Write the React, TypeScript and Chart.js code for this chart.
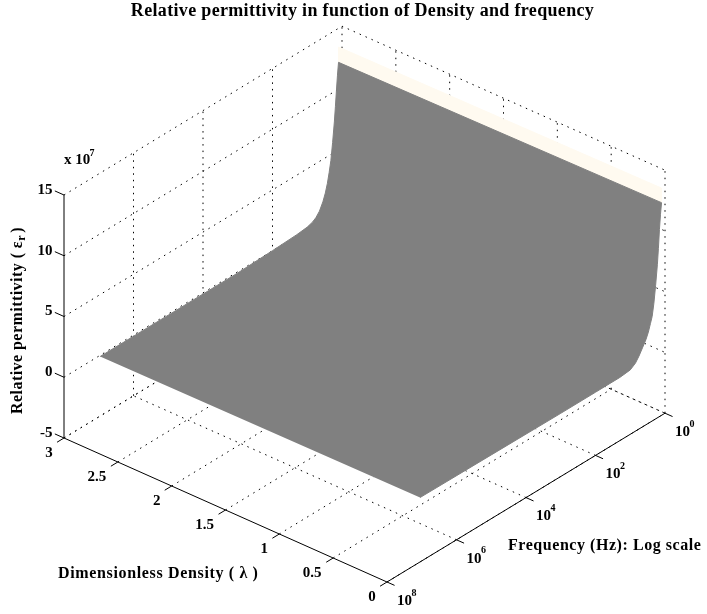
import React, { useEffect, useRef } from "react";
import { Chart, registerables } from "chart.js";

Chart.register(...registerables);

const titleText = "Relative permittivity in function of Density and frequency";
const lambdaTicks = [0, 0.5, 1, 1.5, 2, 2.5, 3];
const lambdaLabels = ["0", "0.5", "1", "1.5", "2", "2.5", "3"];
const freqExponents = [0, 2, 4, 6, 8];
const permTicks = [-5, 0, 5, 10, 15];
// surface profile: log10(frequency) vs permittivity (x 10^7) at the two density edges
const logFAtDensity3 = [6.96, 5, 3, 2, 1.3, 1, 0.85, 0.75, 0.65, 0.55, 0.48, 0.42, 0.37, 0.32, 0.27, 0.22, 0.19, 0.16, 0.13, 0.1];
const logFAtDensity0 = [7.05, 5, 3, 2, 1.3, 1, 0.85, 0.75, 0.65, 0.55, 0.48, 0.42, 0.37, 0.32, 0.27, 0.22, 0.19, 0.16, 0.13, 0.1];
const permAtDensity3 = [-0.1, -0.1, -0.1, 0, 0.1, 0.2, 0.35, 0.55, 0.9, 1.5, 2.1, 2.8, 3.6, 4.5, 5.9, 7.5, 8.7, 10, 11.2, 12.2];
const permAtDensity0 = [0.3, 0.25, 0.2, 0.2, 0.2, 0.3, 0.6, 1.0, 1.5, 2.0, 2.5, 3.1, 3.6, 4.6, 6, 7.6, 8.9, 10.4, 11.6, 12.5];
const rimLogF = 0.1;
const rimTopDensity3 = 13.46;
const rimTopDensity0 = 13.7;

const W = 707;
const H = 614;
const LMAX = 3;
const FMAX = 8;
const ZMIN = -5;
const ZMAX = 15;

// orthographic view of the 3-D box on the flat plotting plane
const project = (lam: number, logF: number, z: number) => ({
  x: 64 + (LMAX - lam) * 107.67 + (FMAX - logF) * 34.75,
  y: 438 + (LMAX - lam) * 48 - (FMAX - logF) * 21.1 - (z - ZMIN) * 12.15,
});

const line = (data: any[], extra: any = {}) => ({
  type: "scatter",
  data,
  showLine: true,
  pointRadius: 0,
  borderColor: "#000",
  borderWidth: 1,
  fill: false,
  tension: 0,
  ...extra,
});

const DOT = { borderDash: [1.5, 5], order: 5 };

function buildDatasets() {
  const sets: any[] = [];
  // walls and floor grid
  permTicks.forEach((z) => {
    sets.push(line([project(LMAX, FMAX, z), project(LMAX, 0, z), project(0, 0, z)], DOT));
  });
  freqExponents.forEach((f) => {
    if (f === FMAX) return;
    sets.push(line([project(LMAX, f, ZMIN), project(LMAX, f, ZMAX)], DOT));
    sets.push(line([project(0, f, ZMIN), project(LMAX, f, ZMIN)], DOT));
  });
  lambdaTicks.forEach((l) => {
    if (l === LMAX) {
      return;
    }
    sets.push(line([project(l, 0, ZMIN), project(l, 0, ZMAX)], DOT));
    sets.push(line([project(l, FMAX, ZMIN), project(l, 0, ZMIN)], DOT));
  });
  sets.push(line([project(LMAX, FMAX, ZMIN), project(LMAX, 0, ZMIN)], DOT));

  // rim of the surface
  const last = logFAtDensity3.length - 1;
  sets.push(
    line(
      [
        project(LMAX, rimLogF, permAtDensity3[last]),
        project(LMAX, rimLogF, rimTopDensity3),
        project(0, rimLogF, rimTopDensity0),
        project(0, rimLogF, permAtDensity0[last]),
      ],
      { fill: "shape", backgroundColor: "#FFFAF0", borderColor: "#FFFAF0", order: 3 }
    )
  );
  // surface
  const back = logFAtDensity3.map((f, i) => project(LMAX, f, permAtDensity3[i]));
  const front = logFAtDensity0.map((f, i) => project(0, f, permAtDensity0[i])).reverse();
  sets.push(
    line([...back, ...front], {
      fill: "shape",
      backgroundColor: "#808080",
      borderColor: "#808080",
      order: 2,
    })
  );

  // axes
  const AX = { order: 1 };
  sets.push(line([project(LMAX, FMAX, ZMIN), project(LMAX, FMAX, ZMAX)], AX));
  sets.push(line([project(LMAX, FMAX, ZMIN), project(0, FMAX, ZMIN)], AX));
  sets.push(line([project(0, FMAX, ZMIN), project(0, 0, ZMIN)], AX));
  // tick marks
  permTicks.forEach((z) => {
    sets.push(line([project(LMAX, FMAX, z), project(LMAX + 0.085, FMAX, z)], AX));
  });
  lambdaTicks.forEach((l) => {
    sets.push(line([project(l, FMAX, ZMIN), project(l, FMAX + 0.2, ZMIN)], AX));
  });
  freqExponents.forEach((f) => {
    sets.push(line([project(0, f, ZMIN), project(-0.07, f, ZMIN)], AX));
  });
  return sets;
}

const FONT = '"Liberation Serif", serif';

const textPlugin = {
  id: "boxText",
  afterDraw(chart: any) {
    const { ctx, scales } = chart;
    const at = (lam: number, f: number, z: number) => {
      const p = project(lam, f, z);
      return { x: scales.x.getPixelForValue(p.x), y: scales.y.getPixelForValue(p.y) };
    };
    const put = (s: string, x: number, y: number, size: number, align: any = "center", spacing = 0) => {
      ctx.font = `bold ${size}px ${FONT}`;
      ctx.textAlign = align;
      ctx.textBaseline = "middle";
      ctx.fillStyle = "#000";
      (ctx as any).letterSpacing = `${spacing}px`;
      ctx.fillText(s, x, y);
    };
    ctx.save();
    put(titleText, 362.5, 11, 18, "center", 0.33);
    permTicks.forEach((z) => {
      const p = at(LMAX, FMAX, z);
      put(String(z), 52.5, p.y - 5, 15, "right");
    });
    lambdaTicks.forEach((l, i) => {
      const p = at(l, FMAX, ZMIN);
      const label = lambdaLabels[i];
      put(label, p.x + (label.length > 1 ? -21 : -15), p.y + 15, 15);
    });
    freqExponents.forEach((f) => {
      const p = at(0, f, ZMIN);
      put("10", p.x + 17.5, p.y + 19, 15);
      put(String(f), p.x + 27, p.y + 11, 10);
    });
    put("x 10", 64, 160, 15, "left");
    put("7", 92, 153, 10);
    put("Frequency (Hz): Log scale", 508, 546, 16, "left", 0.55);
    put("Dimensionless Density ( \u03bb )", 58, 574, 16, "left", 0.65);
    // vertical axis title
    ctx.translate(18, 414);
    ctx.rotate(-Math.PI / 2);
    put("Relative permittivity ( \u03b5", 0, 0, 16, "left", 0.45);
    const w = ctx.measureText("Relative permittivity ( \u03b5").width;
    put("r", w, 4, 12, "left");
    put(")", w + 8, 0, 16, "left");
    ctx.restore();
  },
};

export default function App() {
  const ref = useRef<HTMLCanvasElement>(null);
  useEffect(() => {
    document.body.style.margin = "0";
    document.body.style.background = "#fff";
    const chart = new Chart(ref.current as HTMLCanvasElement, {
      type: "scatter",
      data: { datasets: buildDatasets() as any },
      plugins: [textPlugin],
      options: {
        animation: false,
        responsive: false,
        events: [],
        layout: { padding: 0 },
        plugins: { legend: { display: false }, tooltip: { enabled: false }, title: { display: false } },
        scales: {
          x: { type: "linear", min: 0, max: W, display: false },
          y: { type: "linear", min: 0, max: H, reverse: true, display: false },
        },
      },
    } as any);
    return () => chart.destroy();
  }, []);
  return <canvas ref={ref} width={W} height={H} style={{ display: "block" }} />;
}
